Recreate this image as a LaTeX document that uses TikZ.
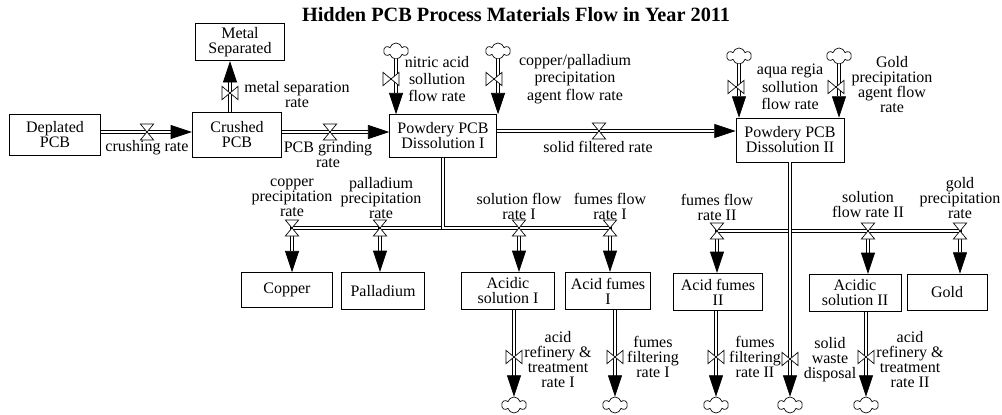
\documentclass[tikz,border=0pt]{standalone}
\usepackage{fontspec}
\setmainfont{Liberation Serif}
\usetikzlibrary{arrows.meta,shapes.symbols}

\tikzset{
  stock/.style={draw, line width=0.6pt, align=center, inner sep=1pt, minimum height=28pt},
  txt/.style={align=center, inner sep=0pt},
  wide/.style={font=\fontsize{12}{13}\selectfont},
  pipe/.style={line width=0.6pt, double=white, double distance=1.7pt, -{Triangle[length=16pt,width=10.5pt]}},
  sink/.style={cloud, draw, line width=0.5pt, cloud puffs=6, aspect=1.5, inner sep=0pt, minimum width=18pt, minimum height=12pt},
  hvalve/.pic={\draw[line width=0.5pt, fill=white] (-5pt,6pt) -- (5pt,-6pt) -- (-5pt,-6pt) -- (5pt,6pt) -- cycle;},
  vvalve/.pic={\draw[line width=0.5pt, fill=white] (-6pt,5pt) -- (6pt,-5pt) -- (6pt,5pt) -- (-6pt,-5pt) -- cycle;}
}

\begin{document}
\begin{tikzpicture}[x=0.75pt, y=-0.75pt, font=\fontsize{12}{11.25}\selectfont]
        \useasboundingbox (0,0) rectangle (1002,414);
        \node[font=\fontsize{15.2}{17}\selectfont\bfseries] (title) at (516,15) {Hidden PCB Process Materials Flow in Year 2011};

        % stocks
        \node[stock, minimum width=68pt, minimum height=31pt] (dep) at (55,135) {Deplated\\PCB};
        \node[stock, minimum width=67pt, minimum height=34pt] (crs) at (237,135) {Crushed\\PCB};
        \node[stock, minimum width=67pt] (met) at (240,42) {Metal\\Separated};
        \node[stock, minimum width=80pt, minimum height=32pt] (pw1) at (443,136) {Powdery PCB\\Dissolution I};
        \node[stock, minimum width=81pt, minimum height=33pt] (pw2) at (790,140) {Powdery PCB\\Dissolution II};
        \node[stock, minimum width=68pt, minimum height=26pt] (cu) at (287,290) {Copper};
        \node[stock, minimum width=62pt] (pd) at (383,291) {Palladium};
        \node[stock, minimum width=70pt] (as1) at (508,291) {Acidic\\solution I};
        \node[stock, minimum width=64pt] (af1) at (608,291) {Acid fumes\\I};
        \node[stock, minimum width=67pt] (af2) at (718,292) {Acid fumes\\II};
        \node[stock, minimum width=69pt] (as2) at (855,293) {Acidic\\solution II};
        \node[stock, minimum width=60pt, minimum height=27pt] (au) at (947,292) {Gold};

        % sources and sinks
        \node[sink] (sn1) at (396,51) {};
        \node[sink] (sn2) at (498,51) {};
        \node[sink] (sa1) at (739,56) {};
        \node[sink] (sa2) at (839,56) {};
        \node[sink] (ks1) at (514,405) {};
        \node[sink] (kf1) at (615,405) {};
        \node[sink] (kf2) at (716,405) {};
        \node[sink] (kw) at (790,405) {};
        \node[sink] (ks2) at (866,405) {};

        % valves
        \coordinate (vcr) at (147,132);
        \coordinate (vgr) at (330,132);
        \coordinate (vms) at (230,93);
        \coordinate (vna) at (391,79);
        \coordinate (vcp) at (494,79);
        \coordinate (var) at (736,87);
        \coordinate (vgp) at (836,87);
        \coordinate (vsf) at (599,131);
        \coordinate (vcu) at (292,228);
        \coordinate (vpd) at (380,228);
        \coordinate (vs1) at (519,228);
        \coordinate (vf1) at (610,228);
        \coordinate (vf2) at (717,231);
        \coordinate (vs2) at (868,231);
        \coordinate (vau) at (960,231);
        \coordinate (vr1) at (514,357);
        \coordinate (vt1) at (615,357);
        \coordinate (vt2) at (716,357);
        \coordinate (vsw) at (790,359);
        \coordinate (vr2) at (866,357);

        % flows
        \draw[pipe] (dep.east |- vcr) -- (crs.west |- vcr);
        \draw[pipe] (crs.east |- vgr) -- (pw1.west |- vgr);
        \draw[pipe] (crs.north -| vms) -- (met.south -| vms);
        \draw[pipe] (pw1.east |- vsf) -- (pw2.west |- vsf);
        \foreach \s/\b in {sn1/pw1, sn2/pw1, sa1/pw2, sa2/pw2} {
            \draw[pipe] (\s.south) -- (\b.north -| \s);
        }
        \foreach \v/\b in {vcu/cu, vpd/pd, vs1/as1, vf1/af1} {
            \draw[pipe] (pw1.south) |- (\v) -- (\b.north -| \v);
        }
        \foreach \v/\b in {vf2/af2, vs2/as2, vau/au} {
            \draw[pipe] (pw2.south) |- (\v) -- (\b.north -| \v);
        }
        \draw[pipe] (pw2.south) -- (vsw) -- (kw.north);
        \foreach \b/\v/\k in {as1/vr1/ks1, af1/vt1/kf1, af2/vt2/kf2, as2/vr2/ks2} {
            \draw[pipe] (\b.south -| \v) -- (\k.north);
        }
        \foreach \v in {vcr, vgr, vsf, vcu, vpd, vs1, vf1, vf2, vs2, vau} {
            \pic at (\v) {hvalve};
        }
        \foreach \v in {vms, vna, vcp, var, vgp, vr1, vt1, vt2, vsw, vr2} {
            \pic at (\v) {vvalve};
        }

        % rate labels
        \node[txt] (lcr) at (147,148) {crushing rate};
        \node[txt] (lgr) at (328,155) {PCB grinding\\rate};
        \node[txt] (lms) at (297,95) {metal separation\\rate};
        \node[txt, wide] (lna) at (437,79) {nitric acid\\sollution\\flow rate};
        \node[txt, wide] (lcp) at (575,79) {copper/palladium\\precipitation\\agent flow rate};
        \node[txt] (lsf) at (598,147) {solid filtered rate};
        \node[txt, wide] (lar) at (790,87) {aqua regia\\sollution\\flow rate};
        \node[txt] (lgp) at (892,85) {Gold\\precipitation\\agent flow\\rate};
        \node[txt] (lcu) at (292,198) {copper\\precipitation\\rate};
        \node[txt] (lpd) at (381,198) {palladium\\precipitation\\rate};
        \node[txt] (ls1) at (519,206) {solution flow\\rate I};
        \node[txt] (lf1) at (610,206) {fumes flow\\rate I};
        \node[txt] (lf2) at (717,207) {fumes flow\\rate II};
        \node[txt] (ls2) at (868,205) {solution\\flow rate II};
        \node[txt] (lau) at (960,198) {gold\\precipitation\\rate};
        \node[txt] (lr1) at (558,360) {acid\\refinery \&\\treatment\\rate I};
        \node[txt] (lt1) at (653,357) {fumes\\filtering\\rate I};
        \node[txt] (lt2) at (755,357) {fumes\\filtering\\rate II};
        \node[txt] (lsw) at (830,360) {solid\\waste\\disposal};
        \node[txt] (lr2) at (910,360) {acid\\refinery \&\\treatment\\rate II};
\end{tikzpicture}
\end{document}
